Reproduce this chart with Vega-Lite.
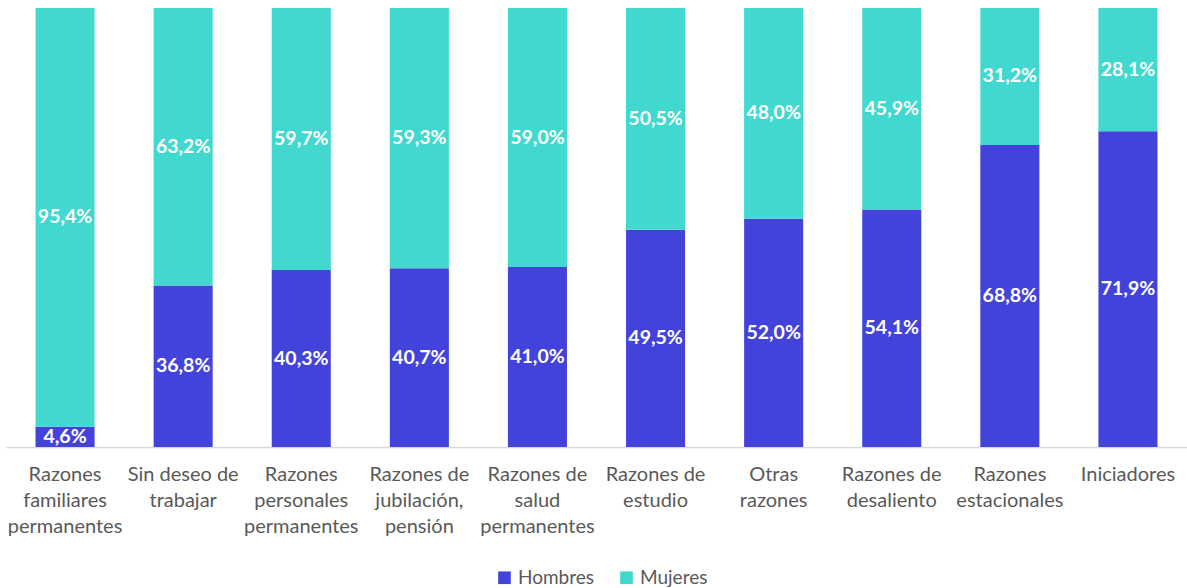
{
  "$schema": "https://vega.github.io/schema/vega-lite/v6.json",
  "width": 1181,
  "height": 439,
  "padding": {"left": 6, "top": 8, "right": 0, "bottom": 0},
  "config": {"view": {"stroke": null}, "font": "Lato"},
  "data": {
    "values": [
      {"cat": "Razones|familiares|permanentes", "sexo": "Hombres", "valor": 4.6},
      {"cat": "Razones|familiares|permanentes", "sexo": "Mujeres", "valor": 95.4},
      {"cat": "Sin deseo de|trabajar", "sexo": "Hombres", "valor": 36.8},
      {"cat": "Sin deseo de|trabajar", "sexo": "Mujeres", "valor": 63.2},
      {"cat": "Razones|personales|permanentes", "sexo": "Hombres", "valor": 40.3},
      {"cat": "Razones|personales|permanentes", "sexo": "Mujeres", "valor": 59.7},
      {"cat": "Razones de|jubilación,|pensión", "sexo": "Hombres", "valor": 40.7},
      {"cat": "Razones de|jubilación,|pensión", "sexo": "Mujeres", "valor": 59.3},
      {"cat": "Razones de|salud|permanentes", "sexo": "Hombres", "valor": 41.0},
      {"cat": "Razones de|salud|permanentes", "sexo": "Mujeres", "valor": 59.0},
      {"cat": "Razones de|estudio", "sexo": "Hombres", "valor": 49.5},
      {"cat": "Razones de|estudio", "sexo": "Mujeres", "valor": 50.5},
      {"cat": "Otras|razones", "sexo": "Hombres", "valor": 52.0},
      {"cat": "Otras|razones", "sexo": "Mujeres", "valor": 48.0},
      {"cat": "Razones de|desaliento", "sexo": "Hombres", "valor": 54.1},
      {"cat": "Razones de|desaliento", "sexo": "Mujeres", "valor": 45.9},
      {"cat": "Razones|estacionales", "sexo": "Hombres", "valor": 68.8},
      {"cat": "Razones|estacionales", "sexo": "Mujeres", "valor": 31.2},
      {"cat": "Iniciadores", "sexo": "Hombres", "valor": 71.9},
      {"cat": "Iniciadores", "sexo": "Mujeres", "valor": 28.1}
    ]
  },
  "transform": [
    {"calculate": "datum.sexo === 'Hombres' ? 0 : 1", "as": "orden"},
    {"stack": "valor", "groupby": ["cat"], "sort": [{"field": "orden", "order": "ascending"}], "as": ["v0", "v1"]},
    {"calculate": "(datum.v0 + datum.v1) / 2", "as": "vmid"},
    {"calculate": "replace(format(datum.valor, '.1f'), '.', ',') + '%'", "as": "etiqueta"}
  ],
  "encoding": {
    "x": {
      "field": "cat",
      "type": "nominal",
      "sort": null,
      "scale": {"paddingInner": 0.5, "paddingOuter": 0.25},
      "axis": {
        "title": null,
        "labelAngle": 0,
        "labelExpr": "split(datum.label, '|')",
        "labelFontSize": 20,
        "labelLineHeight": 26,
        "labelColor": "#595959",
        "labelPadding": 17,
        "ticks": false,
        "domainColor": "#d9d9d9",
        "domainWidth": 1.5,
        "labelLimit": 0
      }
    }
  },
  "layer": [
    {
      "mark": {"type": "bar"},
      "encoding": {
        "y": {"field": "v0", "type": "quantitative", "scale": {"domain": [0, 100], "nice": false}, "axis": null},
        "y2": {"field": "v1"},
        "color": {
          "field": "sexo",
          "type": "nominal",
          "scale": {"domain": ["Hombres", "Mujeres"], "range": ["#4343DB", "#41D9CF"]},
          "legend": {
            "title": null,
            "orient": "none",
            "legendX": 489,
            "legendY": 560,
            "direction": "horizontal",
            "symbolType": "square",
            "symbolSize": 160,
            "symbolStrokeWidth": 0,
            "labelFontSize": 19,
            "labelColor": "#595959",
            "columnPadding": 22
          }
        }
      }
    },
    {
      "mark": {"type": "text", "color": "white", "fontWeight": "bold", "fontSize": 19.5},
      "encoding": {
        "y": {"field": "vmid", "type": "quantitative"},
        "text": {"field": "etiqueta"}
      }
    }
  ]
}
